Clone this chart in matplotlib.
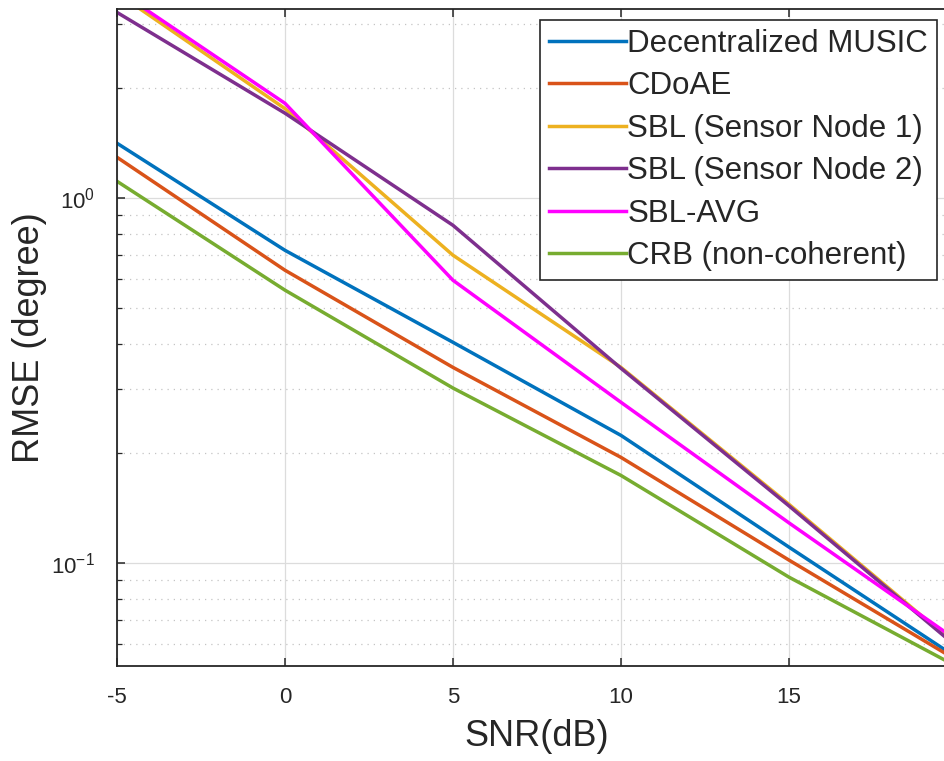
import matplotlib
matplotlib.use("Agg")
import matplotlib.pyplot as plt
from matplotlib.ticker import LogLocator, NullFormatter, LogFormatterSciNotation

plt.rcParams['font.family'] = ['Liberation Sans', 'DejaVu Sans']
plt.rcParams['mathtext.fontset'] = 'custom'
plt.rcParams['mathtext.rm'] = 'Liberation Sans'
plt.rcParams['mathtext.it'] = 'Liberation Sans'
plt.rcParams['mathtext.default'] = 'regular'
plt.rcParams['axes.unicode_minus'] = False

snr = [-5, 0, 5, 10, 15, 20]
music = [1.415, 0.72, 0.403, 0.224, 0.1107, 0.0551]
cdoae = [1.295, 0.635, 0.344, 0.195, 0.102, 0.0542]
sbl1 = [3.65, 1.76, 0.698, 0.344, 0.145, 0.0595]
sbl2 = [3.23, 1.71, 0.843, 0.342, 0.1436, 0.059]
sbl_avg = [3.72, 1.82, 0.596, 0.276, 0.129, 0.0615]
crb = [1.113, 0.56, 0.302, 0.174, 0.0916, 0.0521]

xtick_values = [-5, 0, 5, 10, 15]

labels = ["Decentralized MUSIC", "CDoAE", "SBL (Sensor Node 1)",
          "SBL (Sensor Node 2)", "SBL-AVG", "CRB (non-coherent)"]
colors = ["#0072BD", "#D95319", "#EDB120", "#7E2F8E", "#FF00FF", "#77AC30"]
series = [music, cdoae, sbl1, sbl2, sbl_avg, crb]

W, H = 945, 761
fig = plt.figure(figsize=(W / 100, H / 100), dpi=100)
ax = fig.add_axes([117 / W, (H - 666) / H, (957 - 117) / W, (666 - 9) / H])

for y, c, lab in zip(series, colors, labels):
    ax.plot(snr, y, color=c, lw=2.5, label=lab, solid_joinstyle='miter')

ax.set_yscale('log')
ax.set_xlim(-5, 20)
ax.set_ylim(0.0523, 3.3)
ax.set_xticks(xtick_values)
ax.yaxis.set_major_locator(LogLocator(base=10))
ax.yaxis.set_major_formatter(LogFormatterSciNotation())
ax.yaxis.set_minor_locator(LogLocator(base=10, subs=range(2, 10)))
ax.yaxis.set_minor_formatter(NullFormatter())

ax.grid(True, which='major', color='#dcdcdc', lw=0.9, ls='-')
ax.grid(True, which='minor', axis='y', color='#c4c4c4', lw=0.9, ls=(0, (1, 4)))
ax.set_axisbelow(True)

for s in ax.spines.values():
    s.set_color('#262626')
    s.set_linewidth(1.3)
ax.tick_params(which='major', direction='in', length=6, width=1.1, top=True, right=True,
               labelsize=16, colors='#262626')
ax.tick_params(axis='x', which='major', pad=15)
ax.tick_params(axis='y', which='major', pad=16)
ax.tick_params(which='minor', direction='in', length=3.5, width=0.9, top=True, right=True,
               colors='#262626')

ax.set_xlabel('SNR(dB)', fontsize=26, color='#262626', labelpad=8)
ax.set_ylabel('RMSE (degree)', fontsize=26, color='#262626', labelpad=3)

leg = ax.legend(loc='upper right', bbox_to_anchor=(937 / W, 1 - 20 / H),
                bbox_transform=fig.transFigure, borderaxespad=0, fontsize=22.5,
                handlelength=2.45, handletextpad=0.06, labelspacing=0.40,
                borderpad=0.28, fancybox=False, framealpha=1, edgecolor='#262626')
leg.get_frame().set_linewidth(1.2)
for t in leg.get_texts():
    t.set_color('#262626')

fig.savefig('out.png', dpi=100)
